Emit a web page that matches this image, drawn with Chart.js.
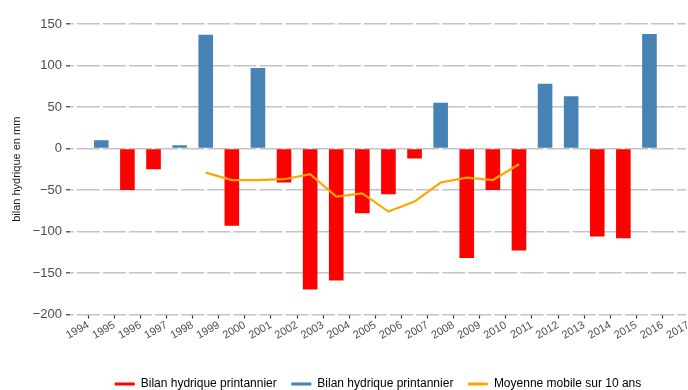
<!DOCTYPE html>
<html>
<head>
<meta charset="utf-8">
<script src="https://cdn.jsdelivr.net/npm/chart.js@4/dist/chart.umd.min.js"></script>
<style>
  html, body { margin: 0; padding: 0; background: #fff; }
  #wrap { width: 688px; height: 390px; }
</style>
</head>
<body>
<div id="wrap"><canvas id="chart"></canvas></div>
<script>
// bilan hydrique printannier (mm), one value per year
const YEARS = [1995, 1996, 1997, 1998, 1999, 2000, 2001, 2002, 2003, 2004, 2005,
  2006, 2007, 2008, 2009, 2010, 2011, 2012, 2013, 2014, 2015, 2016];
const BILAN = [10, -50, -25, 4, 137, -93, 97, -41, -170, -159, -78,
  -55, -12, 55, -132, -50, -123, 78, 63, -106, -108, 138];

// moyenne mobile sur 10 ans
const MM_YEARS = [1999, 2000, 2001, 2002, 2003, 2004, 2005, 2006, 2007, 2008, 2009, 2010, 2011];
const MM = [-29, -38, -38, -37, -31, -58, -54, -76, -64, -41, -35, -38, -19];

const X_TICKS = [1994, 1995, 1996, 1997, 1998, 1999, 2000, 2001, 2002, 2003, 2004, 2005,
  2006, 2007, 2008, 2009, 2010, 2011, 2012, 2013, 2014, 2015, 2016, 2017];
const Y_TICKS = [-200, -150, -100, -50, 0, 50, 100, 150];

const RED = "#ff0000";
const BLUE = "#4682b4";
const ORANGE = "#ffa500";
const LABEL = "Bilan hydrique printannier";

const negData = YEARS.map((y, i) => ({ x: y, y: BILAN[i] < 0 ? BILAN[i] : null }));
const posData = YEARS.map((y, i) => ({ x: y, y: BILAN[i] >= 0 ? BILAN[i] : null }));
const mmData = MM_YEARS.map((y, i) => ({ x: y, y: MM[i] }));

// line up the gaps of the dashed horizontal grid with the year ticks
const gridDash = {
  id: "gridDash",
  afterLayout(chart) {
    const x = chart.scales.x;
    const s = x.getPixelForValue(1995) - x.getPixelForValue(1994);
    const off = x.getPixelForValue(1994) - chart.chartArea.left;
    try {
      chart.scales.y.options.border.dash = [s - 3, 3];
      chart.scales.y.options.border.dashOffset = s - 1.5 - off;
    } catch (e) {}
  },
};

new Chart(document.getElementById("chart"), {
  type: "bar",
  data: {
    datasets: [
      { type: "bar", label: LABEL, data: negData, backgroundColor: RED, grouped: false, order: 1,
        barPercentage: 0.56, categoryPercentage: 1 },
      { type: "bar", label: LABEL, data: posData, backgroundColor: BLUE, grouped: false, order: 1,
        barPercentage: 0.56, categoryPercentage: 1 },
      { type: "line", label: "Moyenne mobile sur 10 ans", data: mmData, borderColor: ORANGE,
        backgroundColor: ORANGE, borderWidth: 2.2, pointRadius: 0, tension: 0, order: 0 },
    ],
  },
  options: {
    responsive: true,
    maintainAspectRatio: false,
    animation: false,
    layout: { padding: { top: 24, left: 8, right: 2, bottom: -10 } },
    plugins: {
      tooltip: { enabled: false },
      legend: {
        position: "bottom",
        fullSize: false,
        labels: {
          color: "#1a1a1a",
          font: { family: "Liberation Sans", size: 12 },
          boxWidth: 20,
          boxHeight: 3,
          padding: 14.5,
          generateLabels: (chart) =>
            chart.data.datasets.map((ds, i) => ({
              text: ds.label,
              fillStyle: ds.backgroundColor,
              strokeStyle: ds.backgroundColor,
              lineWidth: 0,
              datasetIndex: i,
            })),
        },
      },
    },
    scales: {
      x: {
        type: "linear",
        offset: false,
        min: 1993.8,
        max: 2017.4,
        afterBuildTicks: (s) => { s.ticks = X_TICKS.map((v) => ({ value: v })); },
        afterFit: (s) => { s.paddingLeft = 0; s.paddingRight = 0; s.height = 49; },
        border: { display: false },
        grid: { drawOnChartArea: false, drawTicks: true, tickLength: 4, tickColor: "#333", tickWidth: 1.2 },
        ticks: {
          autoSkip: false,
          minRotation: 30,
          maxRotation: 30,
          labelOffset: 13,
          padding: 0,
          color: "#4d4d4d",
          font: { family: "Liberation Sans", size: 11 },
          callback: (v) => String(v),
        },
      },
      y: {
        min: -200,
        max: 150,
        afterBuildTicks: (s) => { s.ticks = Y_TICKS.map((v) => ({ value: v })); },
        afterFit: (s) => { s.width = 62; },
        border: { display: false, dash: [23, 3], dashOffset: 0 },
        grid: { color: "#c4c4c4", lineWidth: 1.6, tickLength: 4, tickColor: "#333", tickWidth: 1.2 },
        ticks: {
          padding: 4,
          color: "#4d4d4d",
          font: { family: "Liberation Sans", size: 13 },
          callback: (v) => (v < 0 ? "\u2212" + Math.abs(v) : String(v)),
        },
        title: {
          display: true,
          text: "bilan hydrique en mm",
          color: "#1a1a1a",
          font: { family: "Liberation Sans", size: 11 },
          padding: { top: 2, bottom: 4 },
        },
      },
    },
  },
  plugins: [gridDash],
});
</script>
</body>
</html>
